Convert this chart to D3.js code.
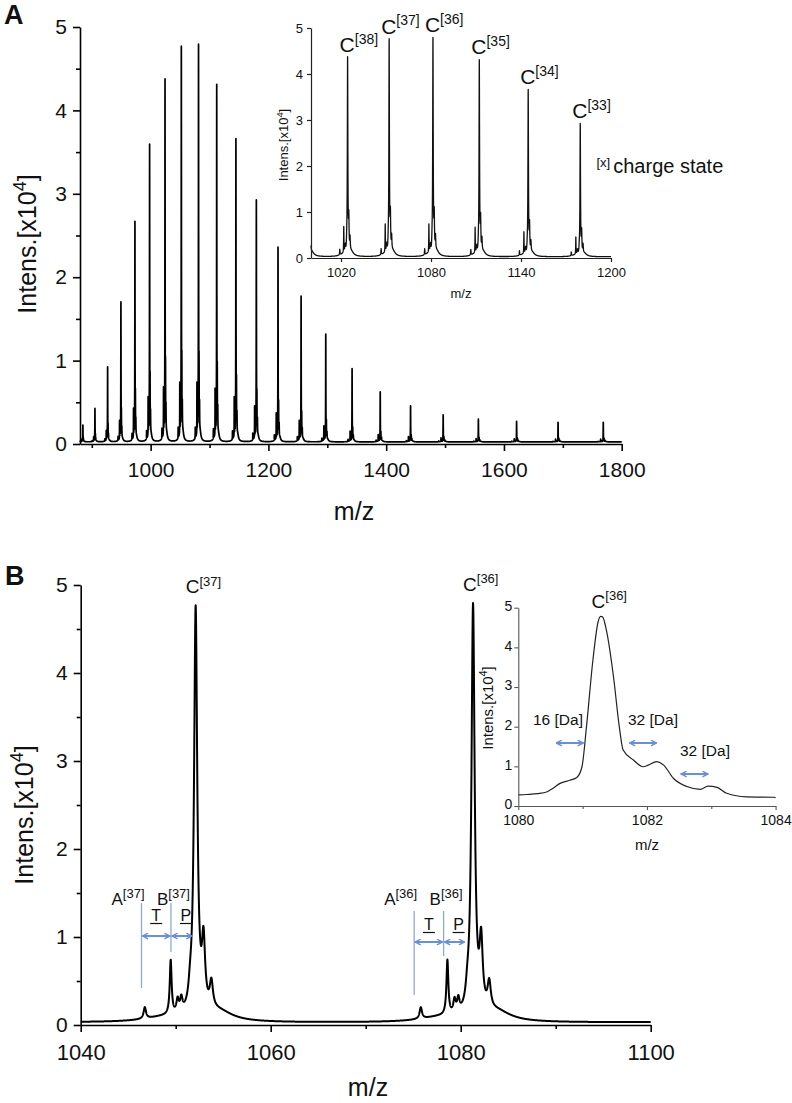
<!DOCTYPE html>
<html><head><meta charset="utf-8">
<script src="https://cdn.jsdelivr.net/npm/d3@7/dist/d3.min.js"></script>
<style>
body{margin:0;background:#fff}
svg{display:block}
text{font-family:"Liberation Sans",Arial,Helvetica,sans-serif}
</style>
</head><body>
<svg id="c" width="792" height="1103"></svg>
<script>
// ---------------- data ----------------
// charge states of the main (C) series and their apex m/z and intensity (x10^4)
const charges = [44,43,42,41,40,39,38,37,36,35,34,33,32,31,30,29,28,27,26,25,24,23,22];
const peakMz  = [884.9,905.4,926.9,949.5,973.3,998.2,1024.4,1052.1,1081.3,1112.2,1144.8,1179.5,1216.3,1255.5,1297.4,1342.1,1389.9,1441.4,1496.8,1556.6,1621.5,1691.9,1768.7];
const peakInt = [0.20,0.40,0.90,1.68,2.65,3.58,4.37,4.77,4.80,4.32,3.67,2.93,2.36,1.77,1.31,0.89,0.61,0.44,0.33,0.28,0.25,0.24,0.24];
// satellite pattern of one cluster, read on the z=36 cluster (offset in m/z, intensity x10^4, half width in m/z)
const satOffset = [-5.5, -2.7, -1.95, -1.55, -0.6, 0, 0.85, 1.7, 2.5, -3.5];
const satInt    = [0.13, 0.62, 0.15, 0.15, 0.15, 4.65, 0.75, 0.30, 0.11, 0.05];
const satWidth  = [0.15, 0.12, 0.15, 0.15, 0.20, 0.20, 0.20, 0.20, 1.8, 2.5];
const refCharge = 36, refHeight = 4.8, baseLevel = 0.025;
// inset B trace (1080-1084 m/z)
const zoomMz  = [1080.00,1080.13,1080.30,1080.45,1080.54,1080.65,1080.80,1080.91,1080.99,1081.06,1081.16,1081.24,1081.28,1081.31,1081.37,1081.48,1081.57,1081.63,1081.79,1081.94,1082.02,1082.15,1082.26,1082.41,1082.62,1082.83,1082.95,1083.09,1083.24,1083.55,1083.97,1084.00];
const zoomInt = [0.28,0.29,0.31,0.36,0.45,0.57,0.65,0.72,0.99,2.00,3.68,4.64,4.78,4.77,4.43,3.26,2.00,1.41,1.16,0.99,1.03,1.12,1.03,0.70,0.49,0.42,0.50,0.47,0.32,0.23,0.22,0.21];
// ticks
const ticksA_x = [1000,1200,1400,1600,1800], ticksA_xm = [900,1100,1300,1500,1700];
const ticksY = [0,1,2,3,4,5], ticksY_m = [0.5,1.5,2.5,3.5,4.5];
const ticksIA_x = [1020,1080,1140,1200];
const ticksB_x = [1040,1060,1080,1100], ticksB_xm = [1050,1070,1090];
const ticksIB_x = [1080,1082,1084], ticksIB_xm = [1081,1083];
// annotations
const insetCharges = [38,37,36,35,34,33];
const groupsB = [ {z:37, aMz:1046.4, bMz:1049.5, pEnd:1051.7}, {z:36, aMz:1075.1, bMz:1078.2, pEnd:1080.4} ];
const daArrows = [ {from:1080.59, to:1081.01, label:"16 [Da]"}, {from:1081.73, to:1082.15, label:"32 [Da]"}, {from:1082.53, to:1082.95, label:"32 [Da]"} ];

// ---------------- model ----------------
const peaks = [];
charges.forEach((z,i)=>{
  satOffset.forEach((o,j)=>{
    peaks.push({c: peakMz[i] + o*refCharge/z, h: satInt[j]*peakInt[i]/refHeight, w: satWidth[j]});
  });
});
function intensity(x){
  let s = baseLevel;
  for (const p of peaks){ const d = x-p.c; s += p.h*p.w*p.w/(p.w*p.w+d*d); }
  return s;
}
function sample(lo, hi, step){
  const xs = d3.range(lo, hi+step/2, step);
  peaks.forEach(p=>{ if (p.c>lo && p.c<hi) xs.push(p.c); });
  xs.sort((a,b)=>a-b);
  return xs.map(x=>[x, intensity(x)]);
}

// ---------------- drawing ----------------
const svg = d3.select('#c');
const blue = '#6b8fd3';
const defs = svg.append('defs');
defs.append('marker').attr('id','ah').attr('viewBox','0 0 10 10').attr('refX',9).attr('refY',5)
  .attr('markerWidth',7).attr('markerHeight',7).attr('markerUnits','userSpaceOnUse').attr('orient','auto-start-reverse')
  .append('path').attr('d','M1,1 L9,5 L1,9').attr('fill','none').attr('stroke',blue).attr('stroke-width',2);

function axis(g, scale, orient, pos, major, minor, o){
  const mk = orient==='bottom' ? d3.axisBottom : d3.axisLeft;
  const tr = orient==='bottom' ? `translate(0,${pos})` : `translate(${pos},0)`;
  const ax = mk(scale).tickValues(major).tickSize(o.size).tickSizeOuter(0).tickPadding(o.pad).tickFormat(d3.format('d'));
  const gg = g.append('g').attr('transform', tr).call(ax);
  gg.select('.domain').attr('stroke', o.color).attr('stroke-width', o.sw);
  gg.selectAll('.tick line').attr('stroke', o.color).attr('stroke-width', o.sw);
  gg.selectAll('.tick text').attr('font-size', o.fs).attr('fill', '#111').style('font-family','"Liberation Sans",Arial,sans-serif');
  if (minor){
    const mg = g.append('g').attr('transform', tr).call(mk(scale).tickValues(minor).tickSize(o.msize).tickSizeOuter(0).tickFormat(''));
    mg.select('.domain').remove();
    mg.selectAll('.tick line').attr('stroke', o.color).attr('stroke-width', o.sw);
  }
  return gg;
}
function yTitle(x, y, fs){
  const t = svg.append('text').attr('transform',`translate(${x},${y}) rotate(-90)`).attr('text-anchor','middle')
    .attr('font-size',fs).attr('fill','#111');
  t.append('tspan').text('Intens.[x10');
  t.append('tspan').attr('font-size',fs*0.72).attr('dy',-fs*0.42).text('4');
  t.append('tspan').attr('dy',fs*0.42).text(']');
}
function supLabel(g, x, y, base, sup, fs, sfs, anchor){
  const t = g.append('text').attr('x',x).attr('y',y).attr('font-size',fs).attr('fill','#111').attr('text-anchor',anchor||'start');
  t.append('tspan').text(base);
  t.append('tspan').attr('font-size',sfs).attr('dy',-fs*0.4).text(sup);
  return t;
}
const line = (x,y)=> d3.line().x(d=>x(d[0])).y(d=>y(d[1]));

// ===== Panel A main =====
const xA = d3.scaleLinear().domain([880,1800]).range([80,621.7]);
const yA = d3.scaleLinear().domain([0,5]).range([444,27]);
const gA = svg.append('g');
gA.append('path').datum(sample(880,1800,0.05)).attr('d', line(xA,yA)).attr('fill','none').attr('stroke','#000').attr('stroke-width',1.7).attr('stroke-linejoin','round');
axis(gA, xA, 'bottom', 444, ticksA_x, ticksA_xm, {size:7, msize:4, pad:11, fs:21, color:'#000', sw:1.6});
axis(gA, yA, 'left', 80, ticksY, ticksY_m, {size:7, msize:4, pad:6, fs:21, color:'#000', sw:1.6});
gA.append('text').attr('x',354).attr('y',520).attr('text-anchor','middle').attr('font-size',25).attr('fill','#111').text('m/z');
yTitle(36, 244, 25);
svg.append('text').attr('x',4).attr('y',24).attr('font-size',27).attr('font-weight','bold').attr('fill','#111').text('A');

// ===== Panel A inset =====
const xIA = d3.scaleLinear().domain([1000,1200]).range([311,611]);
const yIA = d3.scaleLinear().domain([0,5]).range([258,28]);
const gIA = svg.append('g');
gIA.append('path').datum(sample(1000,1200,0.02)).attr('d', line(xIA,yIA)).attr('fill','none').attr('stroke','#111').attr('stroke-width',1.3).attr('stroke-linejoin','round');
axis(gIA, xIA, 'bottom', 258, ticksIA_x, null, {size:4, pad:5.5, fs:13, color:'#222', sw:1.2});
axis(gIA, yIA, 'left', 311, ticksY, null, {size:4, pad:4, fs:13, color:'#222', sw:1.2});
gIA.append('text').attr('x',461).attr('y',298).attr('text-anchor','middle').attr('font-size',13).attr('fill','#111').text('m/z');
yTitle(288, 145, 13);
insetCharges.forEach(z=>{
  const i = charges.indexOf(z);
  supLabel(gIA, xIA(peakMz[i]) - 8, yIA(peakInt[i]) - 5, 'C', `[${z}]`, 21, 14);
});
{
  const t = gIA.append('text').attr('x',596.5).attr('y',173).attr('font-size',20).attr('fill','#111');
  t.append('tspan').attr('font-size',13).attr('dy',-6).text('[x]');
  t.append('tspan').attr('dy',6).attr('dx',3).text('charge state');
}

// ===== Panel B main =====
const xB = d3.scaleLinear().domain([1040,1100]).range([80.7,650.7]);
const yB = d3.scaleLinear().domain([0,5]).range([1025,585]);
const gB = svg.append('g');
gB.append('path').datum(sample(1040,1100,0.01)).attr('d', line(xB,yB)).attr('fill','none').attr('stroke','#000').attr('stroke-width',2).attr('stroke-linejoin','round');
axis(gB, xB, 'bottom', 1025, ticksB_x, ticksB_xm, {size:7, msize:4, pad:12, fs:22, color:'#000', sw:1.6});
axis(gB, yB, 'left', 80.7, ticksY, ticksY_m, {size:7, msize:4, pad:6, fs:21, color:'#000', sw:1.6});
gB.append('text').attr('x',368).attr('y',1096).attr('text-anchor','middle').attr('font-size',25).attr('fill','#111').text('m/z');
yTitle(33, 815, 25);
svg.append('text').attr('x',5).attr('y',585).attr('font-size',27).attr('font-weight','bold').attr('fill','#111').text('B');
[37,36].forEach(z=>{
  const i = charges.indexOf(z);
  supLabel(gB, xB(peakMz[i]) - 10, yB(peakInt[i]) - 12, 'C', `[${z}]`, 19, 13);
});
const grpY = [ {lab:905, tl:921, top:903, arrow:936, aBot:988, bBot:952}, {lab:905, tl:930, top:911, arrow:942, aBot:995, bBot:956} ];
groupsB.forEach((gp,k)=>{
  const L = grpY[k];
  const xa = xB(gp.aMz), xb = xB(gp.bMz), xp = xB(gp.pEnd);
  gB.append('line').attr('x1',xa).attr('x2',xa).attr('y1',L.top).attr('y2',L.aBot).attr('stroke','#8fa8da').attr('stroke-width',1.3);
  gB.append('line').attr('x1',xb).attr('x2',xb).attr('y1',L.top).attr('y2',L.bBot).attr('stroke','#8fa8da').attr('stroke-width',1.3);
  gB.append('line').attr('x1',xa+1).attr('x2',xb-1).attr('y1',L.arrow).attr('y2',L.arrow).attr('stroke',blue).attr('stroke-width',2)
    .attr('marker-start','url(#ah)').attr('marker-end','url(#ah)');
  gB.append('line').attr('x1',xb+1).attr('x2',xp).attr('y1',L.arrow).attr('y2',L.arrow).attr('stroke',blue).attr('stroke-width',2)
    .attr('marker-start','url(#ah)').attr('marker-end','url(#ah)');
  supLabel(gB, xa - 30, L.lab, 'A', `[${gp.z}]`, 17, 13);
  supLabel(gB, xb - 14, L.lab, 'B', `[${gp.z}]`, 17, 13);
  const tx = (xa+xb)/2, px = xb + 15;
  [[tx,'T'],[px,'P']].forEach(([cx,s])=>{
    gB.append('text').attr('x',cx).attr('y',L.tl).attr('text-anchor','middle').attr('font-size',16).attr('fill','#111').text(s);
    gB.append('line').attr('x1',cx-6).attr('x2',cx+6).attr('y1',L.tl+2.5).attr('y2',L.tl+2.5).attr('stroke','#111').attr('stroke-width',1.2);
  });
});

// ===== Panel B inset =====
const xIB = d3.scaleLinear().domain([1080,1084]).range([518.3,775.6]);
const yIB = d3.scaleLinear().domain([0,5]).range([806,607.7]);
const gIB = svg.append('g');
gIB.append('path').datum(zoomMz.map((m,i)=>[m,zoomInt[i]])).attr('d', line(xIB,yIB).curve(d3.curveMonotoneX))
  .attr('fill','none').attr('stroke','#222').attr('stroke-width',1.2);
axis(gIB, xIB, 'bottom', 806, ticksIB_x, ticksIB_xm, {size:4, msize:3, pad:5.5, fs:14, color:'#555', sw:1.1});
const yAxIB = axis(gIB, yIB, 'left', 518.3, ticksY, null, {size:4, pad:2, fs:14, color:'#555', sw:1.1});
yAxIB.selectAll('.tick text').attr('dy','0.2em');
gIB.append('text').attr('x',647).attr('y',850).attr('text-anchor','middle').attr('font-size',15).attr('fill','#111').text('m/z');
yTitle(493, 708, 15);
supLabel(gIB, xIB(1081.31) - 11, 608, 'C', '[36]', 19, 13);
const daY = [743, 743, 774], daT = [725, 725, 756];
daArrows.forEach((a,k)=>{
  gIB.append('line').attr('x1',xIB(a.from)).attr('x2',xIB(a.to)).attr('y1',daY[k]).attr('y2',daY[k]).attr('stroke',blue).attr('stroke-width',2)
    .attr('marker-start','url(#ah)').attr('marker-end','url(#ah)');
});
gIB.append('text').attr('x',533).attr('y',daT[0]).attr('font-size',15.5).attr('fill','#111').text(daArrows[0].label);
gIB.append('text').attr('x',628).attr('y',daT[1]).attr('font-size',15.5).attr('fill','#111').text(daArrows[1].label);
gIB.append('text').attr('x',680).attr('y',daT[2]).attr('font-size',15.5).attr('fill','#111').text(daArrows[2].label);
</script>
</body></html>
